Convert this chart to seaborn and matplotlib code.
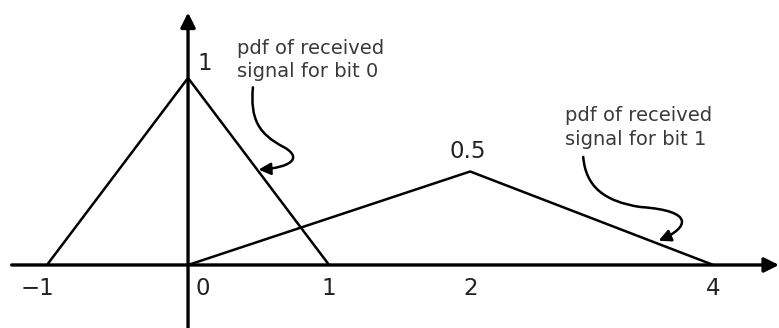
import numpy as np
import matplotlib
matplotlib.use("Agg")
import matplotlib.pyplot as plt
from matplotlib.patches import FancyArrowPatch
from matplotlib.path import Path
import seaborn as sns

# pdf of received signal for bit 0 and bit 1 (triangles)
x_bit0 = [-1, 0, 1]
y_bit0 = [0, 1, 0]
x_bit1 = [0, 2, 4]
y_bit1 = [0, 0.5, 0]

x_ticks = [-1, 0, 1, 2, 4]
x_tick_labels = ["\u22121", "0", "1", "2", "4"]

label_bit0 = "pdf of received\nsignal for bit 0"
label_bit1 = "pdf of received\nsignal for bit 1"

sns.set_style("white")
plt.rcParams['font.family'] = ['DejaVu Sans']

# the sketch is not to scale: the part beyond 2 is squeezed a bit
squeeze = 0.862


def fwd(x):
    x = np.asarray(x, dtype=float)
    return np.where(x <= 2, x, 2 + (x - 2) * squeeze)


def inv(u):
    u = np.asarray(u, dtype=float)
    return np.where(u <= 2, u, 2 + (u - 2) / squeeze)


fig = plt.figure(figsize=(7.79, 3.28), dpi=100)
ax = fig.add_axes([0, 0, 1, 1])
ax.set_xscale("function", functions=(fwd, inv))
ax.set_xlim(-1.333, 4.54)
ax.set_ylim(-0.337, 1.417)
ax.axis("off")

sns.lineplot(x=x_bit0, y=y_bit0, sort=False, color="black", lw=1.8, ax=ax)
sns.lineplot(x=x_bit1, y=y_bit1, sort=False, color="black", lw=1.8, ax=ax)

# axes with arrow heads
arr = dict(arrowstyle="-|>", color="black", lw=2.4, mutation_scale=22,
           shrinkA=0, shrinkB=0)
ax.annotate("", xy=(4.54, 0), xytext=(-1.25, 0), arrowprops=arr)
ax.annotate("", xy=(0, 1.35), xytext=(0, -0.337), arrowprops=arr)

# tick labels and peak values
num = dict(fontsize=16.5, color="#222222", ha="center", va="baseline")
for xv, lab in zip(x_ticks, x_tick_labels):
    off = 0.0
    if xv == 0:
        off = 0.106
    elif xv == -1:
        off = -0.07
    ax.text(xv + off, -0.16, lab, **num)
ax.text(0.115, 1.04, "1", **num)
ax.text(1.98, 0.572, "0.5", **num)

# annotation texts
note = dict(fontsize=14, color="#3a3a3a", ha="left", va="baseline",
            linespacing=1.3)
ax.text(0.348, 1.005, label_bit0, **note)
ax.text(2.782, 0.642, label_bit1, **note)


# curly pointer arrows (cubic Bezier, data coords)
def curly(pts):
    codes = [Path.MOVETO] + [Path.CURVE4] * (len(pts) - 1)
    patch = FancyArrowPatch(path=Path(pts, codes), arrowstyle="-|>",
                            mutation_scale=18, color="black", lw=1.8,
                            transform=ax.transData)
    ax.add_patch(patch)


curly([(0.46, 0.95), (0.44, 0.78), (0.5, 0.7), (0.68, 0.63),
       (0.82, 0.57), (0.72, 0.52), (0.5, 0.51)])
curly([(2.93, 0.578), (2.95, 0.42), (3.1, 0.34), (3.4, 0.31),
       (3.85, 0.29), (3.8, 0.2), (3.55, 0.13)])

fig.savefig("out.png", dpi=100)
